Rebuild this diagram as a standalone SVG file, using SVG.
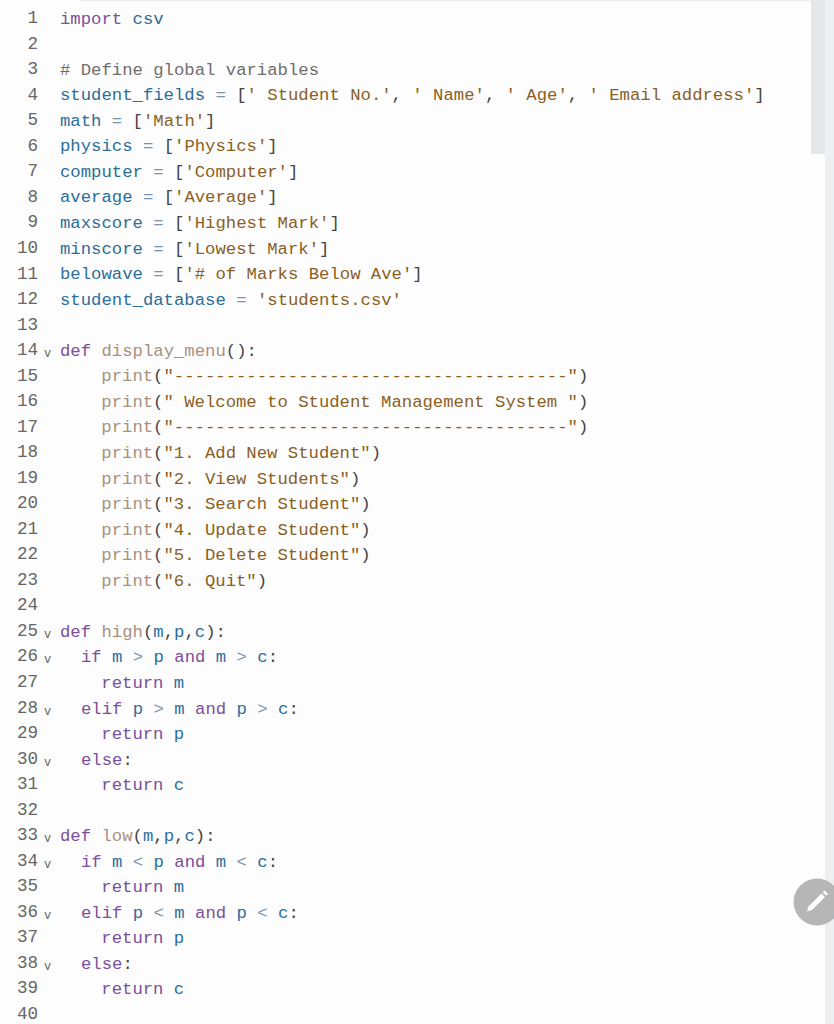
<svg xmlns="http://www.w3.org/2000/svg" width="834" height="1024" viewBox="0 0 834 1024">
<style>
text{font-family:"Liberation Mono","DejaVu Sans Mono",monospace;font-size:17.27px;white-space:pre;fill:#444}
.n{fill:#666;text-anchor:end;font-size:17.6px}
.f{fill:#666;font-size:12px}
.k{fill:#7a4f9c}
.v{fill:#2c6e9b}
.s{fill:#8a5f24}
.c{fill:#6e6e6e}
.b{fill:#a8917f}
.o{fill:#7a93ad}
</style>
<rect width="834" height="1024" fill="#fdfdfd"/>
<rect x="80" y="0" width="745" height="1" fill="#ececee"/>
<rect x="825" y="0" width="9" height="1024" fill="#eeeff1"/>
<rect x="811" y="0" width="14" height="154" fill="#e6e7e9"/>
<g id="line-numbers">
<text class="n" x="38" y="23">1</text><text class="n" x="38" y="49">2</text><text class="n" x="38" y="74">3</text><text class="n" x="38" y="100">4</text><text class="n" x="38" y="125">5</text><text class="n" x="38" y="151">6</text><text class="n" x="38" y="176">7</text><text class="n" x="38" y="202">8</text><text class="n" x="38" y="227">9</text><text class="n" x="38" y="253">10</text><text class="n" x="38" y="279">11</text><text class="n" x="38" y="304">12</text><text class="n" x="38" y="330">13</text><text class="n" x="38" y="355">14</text><text class="n" x="38" y="381">15</text><text class="n" x="38" y="406">16</text><text class="n" x="38" y="432">17</text><text class="n" x="38" y="457">18</text><text class="n" x="38" y="483">19</text><text class="n" x="38" y="508">20</text><text class="n" x="38" y="534">21</text><text class="n" x="38" y="559">22</text><text class="n" x="38" y="585">23</text><text class="n" x="38" y="610">24</text><text class="n" x="38" y="636">25</text><text class="n" x="38" y="661">26</text><text class="n" x="38" y="687">27</text><text class="n" x="38" y="713">28</text><text class="n" x="38" y="738">29</text><text class="n" x="38" y="764">30</text><text class="n" x="38" y="789">31</text><text class="n" x="38" y="815">32</text><text class="n" x="38" y="840">33</text><text class="n" x="38" y="866">34</text><text class="n" x="38" y="891">35</text><text class="n" x="38" y="917">36</text><text class="n" x="38" y="942">37</text><text class="n" x="38" y="968">38</text><text class="n" x="38" y="993">39</text><text class="n" x="38" y="1019">40</text>
</g>
<g id="fold-markers">
<text class="f" x="44" y="357">v</text><text class="f" x="44" y="638">v</text><text class="f" x="44" y="663">v</text><text class="f" x="44" y="715">v</text><text class="f" x="44" y="766">v</text><text class="f" x="44" y="842">v</text><text class="f" x="44" y="868">v</text><text class="f" x="44" y="919">v</text><text class="f" x="44" y="970">v</text>
</g>
<g id="code">
<text x="60" y="24"><tspan class="k">import</tspan> <tspan class="v">csv</tspan></text>
<text x="60" y="75"><tspan class="c"># Define global variables</tspan></text>
<text x="60" y="100"><tspan class="v">student_fields</tspan> <tspan class="o">=</tspan> [<tspan class="s">' Student No.'</tspan>, <tspan class="s">' Name'</tspan>, <tspan class="s">' Age'</tspan>, <tspan class="s">' Email address'</tspan>]</text>
<text x="60" y="126"><tspan class="v">math</tspan> <tspan class="o">=</tspan> [<tspan class="s">'Math'</tspan>]</text>
<text x="60" y="151"><tspan class="v">physics</tspan> <tspan class="o">=</tspan> [<tspan class="s">'Physics'</tspan>]</text>
<text x="60" y="177"><tspan class="v">computer</tspan> <tspan class="o">=</tspan> [<tspan class="s">'Computer'</tspan>]</text>
<text x="60" y="202"><tspan class="v">average</tspan> <tspan class="o">=</tspan> [<tspan class="s">'Average'</tspan>]</text>
<text x="60" y="228"><tspan class="v">maxscore</tspan> <tspan class="o">=</tspan> [<tspan class="s">'Highest Mark'</tspan>]</text>
<text x="60" y="254"><tspan class="v">minscore</tspan> <tspan class="o">=</tspan> [<tspan class="s">'Lowest Mark'</tspan>]</text>
<text x="60" y="279"><tspan class="v">belowave</tspan> <tspan class="o">=</tspan> [<tspan class="s">'# of Marks Below Ave'</tspan>]</text>
<text x="60" y="305"><tspan class="v">student_database</tspan> <tspan class="o">=</tspan> <tspan class="s">'students.csv'</tspan></text>
<text x="60" y="356"><tspan class="k">def</tspan> <tspan class="b">display_menu</tspan>():</text>
<text x="101.3" y="381"><tspan class="b">print</tspan>(<tspan class="s">"--------------------------------------"</tspan>)</text>
<text x="101.3" y="407"><tspan class="b">print</tspan>(<tspan class="s">" Welcome to Student Management System "</tspan>)</text>
<text x="101.3" y="432"><tspan class="b">print</tspan>(<tspan class="s">"--------------------------------------"</tspan>)</text>
<text x="101.3" y="458"><tspan class="b">print</tspan>(<tspan class="s">"1. Add New Student"</tspan>)</text>
<text x="101.3" y="484"><tspan class="b">print</tspan>(<tspan class="s">"2. View Students"</tspan>)</text>
<text x="101.3" y="509"><tspan class="b">print</tspan>(<tspan class="s">"3. Search Student"</tspan>)</text>
<text x="101.3" y="535"><tspan class="b">print</tspan>(<tspan class="s">"4. Update Student"</tspan>)</text>
<text x="101.3" y="560"><tspan class="b">print</tspan>(<tspan class="s">"5. Delete Student"</tspan>)</text>
<text x="101.3" y="586"><tspan class="b">print</tspan>(<tspan class="s">"6. Quit"</tspan>)</text>
<text x="60" y="637"><tspan class="k">def</tspan> <tspan class="b">high</tspan>(<tspan class="v">m</tspan>,<tspan class="v">p</tspan>,<tspan class="v">c</tspan>):</text>
<text x="81" y="662"><tspan class="k">if</tspan> <tspan class="v">m</tspan> <tspan class="o">&gt;</tspan> <tspan class="v">p</tspan> <tspan class="k">and</tspan> <tspan class="v">m</tspan> <tspan class="o">&gt;</tspan> <tspan class="v">c</tspan>:</text>
<text x="101.3" y="688"><tspan class="k">return</tspan> <tspan class="v">m</tspan></text>
<text x="81" y="714"><tspan class="k">elif</tspan> <tspan class="v">p</tspan> <tspan class="o">&gt;</tspan> <tspan class="v">m</tspan> <tspan class="k">and</tspan> <tspan class="v">p</tspan> <tspan class="o">&gt;</tspan> <tspan class="v">c</tspan>:</text>
<text x="101.3" y="739"><tspan class="k">return</tspan> <tspan class="v">p</tspan></text>
<text x="81" y="765"><tspan class="k">else</tspan>:</text>
<text x="101.3" y="790"><tspan class="k">return</tspan> <tspan class="v">c</tspan></text>
<text x="60" y="841"><tspan class="k">def</tspan> <tspan class="b">low</tspan>(<tspan class="v">m</tspan>,<tspan class="v">p</tspan>,<tspan class="v">c</tspan>):</text>
<text x="81" y="867"><tspan class="k">if</tspan> <tspan class="v">m</tspan> <tspan class="o">&lt;</tspan> <tspan class="v">p</tspan> <tspan class="k">and</tspan> <tspan class="v">m</tspan> <tspan class="o">&lt;</tspan> <tspan class="v">c</tspan>:</text>
<text x="101.3" y="892"><tspan class="k">return</tspan> <tspan class="v">m</tspan></text>
<text x="81" y="918"><tspan class="k">elif</tspan> <tspan class="v">p</tspan> <tspan class="o">&lt;</tspan> <tspan class="v">m</tspan> <tspan class="k">and</tspan> <tspan class="v">p</tspan> <tspan class="o">&lt;</tspan> <tspan class="v">c</tspan>:</text>
<text x="101.3" y="943"><tspan class="k">return</tspan> <tspan class="v">p</tspan></text>
<text x="81" y="969"><tspan class="k">else</tspan>:</text>
<text x="101.3" y="994"><tspan class="k">return</tspan> <tspan class="v">c</tspan></text>
</g>
<g id="edit-button">
<circle cx="817" cy="902" r="23.5" fill="#b6b6b6"/>
<path d="M807 911.5L808.5 906.5L821.5 893.5L825 897L812 910Z" fill="#fff"/>
<path d="M822.8 892.2L824.5 890.5L828 894L826.3 895.7Z" fill="#fff"/>
</g>
</svg>
